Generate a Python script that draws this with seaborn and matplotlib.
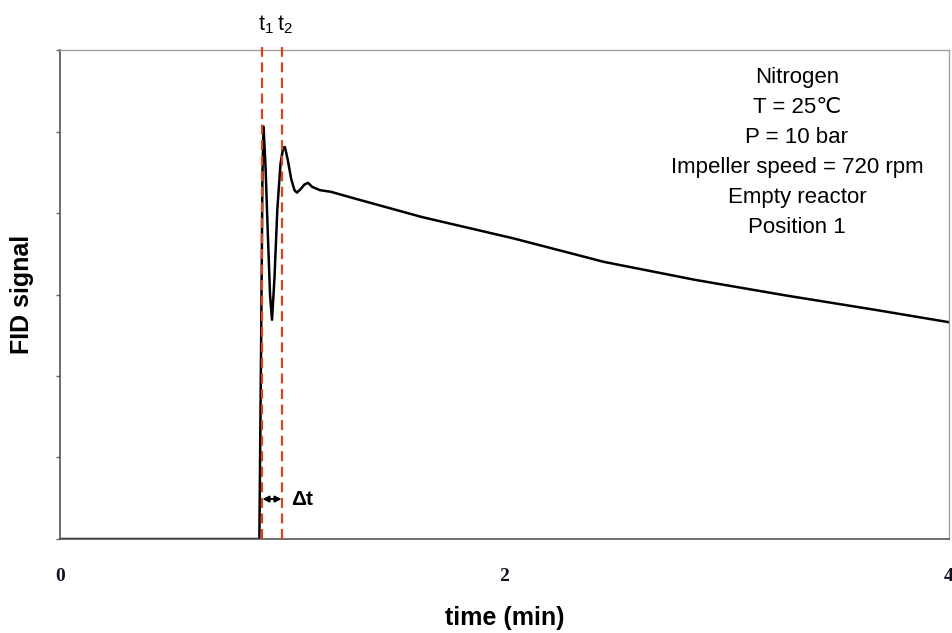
import matplotlib
matplotlib.use("Agg")
import matplotlib.pyplot as plt
import seaborn as sns
import pandas as pd

# ---- data ----
time_min = [0.0, 0.5, 0.897, 0.905, 0.911, 0.916, 0.925, 0.935, 0.945, 0.954,
            0.965, 0.978, 0.992, 1.004, 1.012, 1.025, 1.040, 1.055, 1.066,
            1.085, 1.100, 1.116, 1.135, 1.170, 1.219, 1.323, 1.629, 2.038,
            2.448, 2.857, 3.262, 3.672, 4.0]
fid_signal = [0.0, 0.0, 0.0, 2.4, 4.5, 5.06, 4.55, 3.75, 3.0, 2.69,
              3.2, 4.05, 4.6, 4.80, 4.81, 4.65, 4.42, 4.28, 4.25,
              4.30, 4.35, 4.37, 4.32, 4.28, 4.26, 4.18, 3.95, 3.69,
              3.40, 3.18, 2.99, 2.81, 2.66]
t_marks = [0.911, 0.997]
t_labels = ["t$_1$", "t$_2$"]
x_ticks = [0, 2, 4]
y_ticks = [0, 1, 2, 3, 4, 5, 6]
info_lines = ["Nitrogen", "T = 25\u2103", "P = 10 bar",
              "Impeller speed = 720 rpm", "Empty reactor", "Position 1"]

df = pd.DataFrame({"time (min)": time_min, "FID signal": fid_signal})

sns.set_style("white")
plt.rcParams["font.family"] = ["Liberation Sans", "DejaVu Sans"]
plt.rcParams["mathtext.default"] = "regular"
plt.rcParams["text.color"] = "black"
plt.rcParams["axes.labelcolor"] = "black"

fig = plt.figure(figsize=(9.53, 6.33), dpi=100)
ax = fig.add_axes([0.06296, 0.14850, 0.93284, 0.77251])

sns.lineplot(data=df, x="time (min)", y="FID signal", color="black",
             linewidth=1.8, ax=ax)

ax.set_xlim(0, 4)
ax.set_ylim(0, 6)
ax.set_xticks(x_ticks)
ax.set_xticklabels([str(v) for v in x_ticks], family="Liberation Serif",
                   fontweight="bold", fontsize=14, color="#111122")
ax.set_yticks(y_ticks)
ax.set_yticklabels([])
ax.tick_params(axis="x", direction="out", length=7, width=1, color="#666666", pad=14)
ax.tick_params(axis="y", direction="out", length=3, width=1, color="#666666", left=True)

for side in ["left", "bottom"]:
    ax.spines[side].set_color("#555555")
    ax.spines[side].set_linewidth(1.2)
for side in ["top", "right"]:
    ax.spines[side].set_color("#a0a0a0")
    ax.spines[side].set_linewidth(1.0)

ax.set_xlabel("time (min)", fontsize=18, fontweight="bold", color="black")
ax.set_ylabel("FID signal", fontsize=18, fontweight="bold", color="black")
ax.xaxis.set_label_coords(0.5, -0.138)
ax.yaxis.set_label_coords(-0.029, 0.5)

# dashed marker lines
for tm, lab in zip(t_marks, t_labels):
    ax.axvline(tm, ymin=0, ymax=1.006, color="#d9441c", linewidth=1.6,
               dashes=(4.5, 2.5), clip_on=False, zorder=3)
    ax.annotate(lab, xy=(tm, 1.0), xycoords=("data", "axes fraction"),
                xytext=(-3.5, 14), textcoords="offset points",
                ha="left", va="baseline", fontsize=15.5, color="black")

# delta t arrow
ax.annotate("", xy=(t_marks[0], 0.49), xytext=(t_marks[1], 0.49),
            arrowprops=dict(arrowstyle="<|-|>", color="black", lw=1.4,
                            mutation_scale=9, shrinkA=0, shrinkB=0))
ax.annotate("\u0394t", xy=(t_marks[1], 0.49), xytext=(7, 0),
            textcoords="offset points", ha="left", va="center",
            fontsize=15, fontweight="bold", color="black")

ax.text(0.829, 0.966, "\n".join(info_lines), transform=ax.transAxes,
        ha="center", va="top", fontsize=16, linespacing=1.57, color="black",
        family=["Liberation Sans", "DejaVu Sans"])

fig.savefig("out.png", dpi=100)
